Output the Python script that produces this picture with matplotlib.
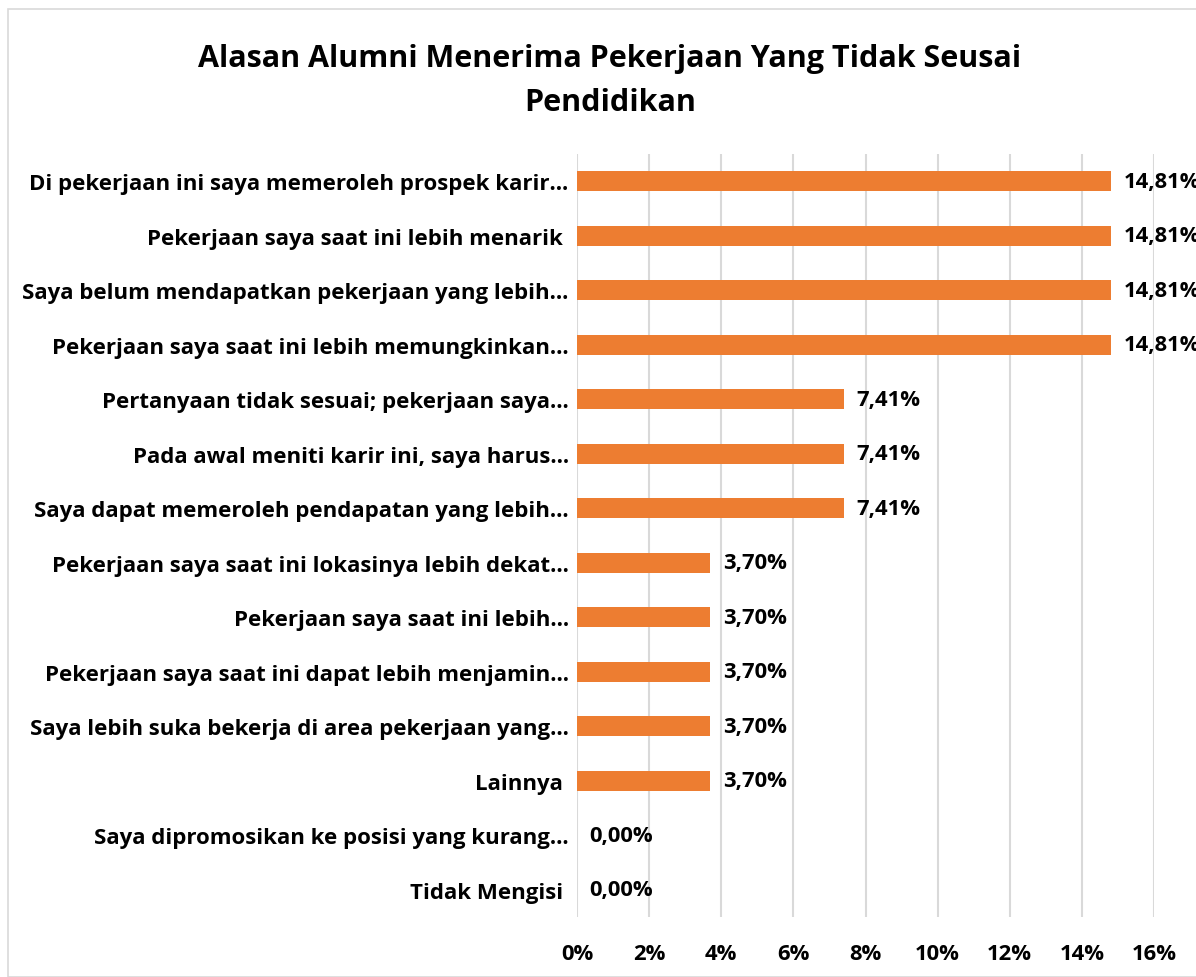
import matplotlib.pyplot as plt
from matplotlib.patches import Rectangle

# Data
categories = [
    "Di pekerjaan ini saya memeroleh prospek karir…",
    "Pekerjaan saya saat ini lebih menarik ",
    "Saya belum mendapatkan pekerjaan yang lebih…",
    "Pekerjaan saya saat ini lebih memungkinkan…",
    "Pertanyaan tidak sesuai; pekerjaan saya…",
    "Pada awal meniti karir ini, saya harus…",
    "Saya dapat memeroleh pendapatan yang lebih…",
    "Pekerjaan saya saat ini lokasinya lebih dekat…",
    "Pekerjaan saya saat ini lebih…",
    "Pekerjaan saya saat ini dapat lebih menjamin…",
    "Saya lebih suka bekerja di area pekerjaan yang…",
    "Lainnya ",
    "Saya dipromosikan ke posisi yang kurang…",
    "Tidak Mengisi ",
]
values = [0.1481, 0.1481, 0.1481, 0.1481, 0.0741, 0.0741, 0.0741,
          0.0370, 0.0370, 0.0370, 0.0370, 0.0370, 0.0, 0.0]
x_ticks = [0, 0.02, 0.04, 0.06, 0.08, 0.10, 0.12, 0.14, 0.16]

plt.rcParams['font.family'] = ['Open Sans', 'DejaVu Sans']
plt.rcParams['font.weight'] = 'bold'

fig = plt.figure(figsize=(11.96, 9.78), dpi=100)
ax = fig.add_axes([577 / 1196, 1 - 918 / 978, (1154 - 577) / 1196, (918 - 155) / 978])

# chart frame
fig.patches.append(Rectangle((8 / 1196, 0), 1.2, 1 - 10 / 978, transform=fig.transFigure,
                             fill=False, edgecolor='#D9D9D9', linewidth=1.2))

y = list(range(len(categories)))
ax.barh(y, values, height=0.36, color='#ED7D31', zorder=3)

for yi, v in zip(y, values):
    ax.text(v + 0.0035, yi, f"{v * 100:.2f}%".replace('.', ','), va='center', ha='left',
            fontsize=15.8, fontweight='bold', color='black', clip_on=False)

ax.set_xlim(0, 0.16)
ax.set_ylim(len(categories) - 0.5, -0.5)
ax.set_yticks(y)
ax.set_yticklabels(categories, fontsize=16, fontweight='bold')
ax.set_xticks(x_ticks)
ax.set_xticklabels([f"{int(round(t * 100))}%" for t in x_ticks], fontsize=15.8, fontweight='bold')
ax.tick_params(axis='both', length=0)
ax.tick_params(axis='x', pad=19)
ax.tick_params(axis='y', pad=6)
ax.grid(axis='x', color='#D9D9D9', linewidth=1.5, zorder=0)
for s in ax.spines.values():
    s.set_visible(False)

fig.text(610 / 1196, 1 - 81 / 978, "Alasan Alumni Menerima Pekerjaan Yang Tidak Seusai\nPendidikan",
         ha='center', va='center', fontsize=22, fontweight='bold', linespacing=1.62)

fig.savefig("out.png", dpi=100)
